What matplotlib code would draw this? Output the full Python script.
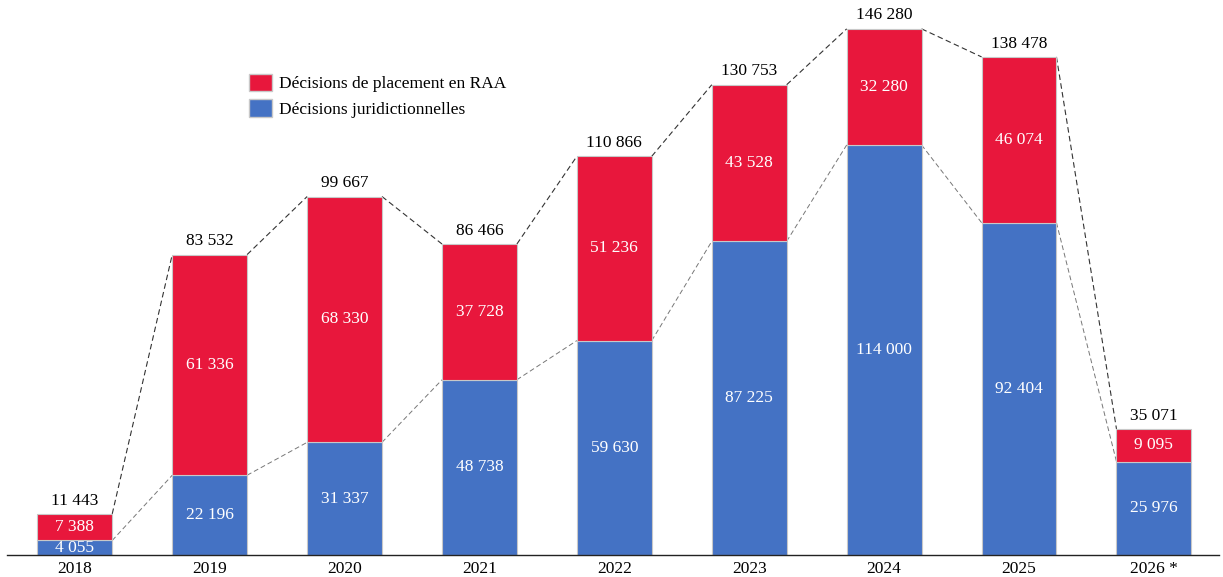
import matplotlib.pyplot as plt
from matplotlib.patches import Patch

# decisions per year
years = ['2018', '2019', '2020', '2021', '2022', '2023', '2024', '2025', '2026 *']
juridictionnelles = [4055, 22196, 31337, 48738, 59630, 87225, 114000, 92404, 25976]
placement_raa = [7388, 61336, 68330, 37728, 51236, 43528, 32280, 46074, 9095]

RED = '#E8173C'
BLUE = '#4472C4'


def fmt(v):
    # French thousands separator
    return '{:,}'.format(v).replace(',', ' ')


plt.rcParams['font.family'] = ['Liberation Serif', 'DejaVu Serif']

fig = plt.figure(figsize=(12.23, 5.77), dpi=100)
ax = fig.add_axes([0.006, 0.038, 0.991, 0.962])

x = list(range(len(years)))
w = 0.555
totals = [a + b for a, b in zip(juridictionnelles, placement_raa)]

ax.bar(x, juridictionnelles, w, color=BLUE, edgecolor='#c8c8c8', linewidth=0.8, zorder=2)
ax.bar(x, placement_raa, w, bottom=juridictionnelles, color=RED, edgecolor='#c8c8c8',
       linewidth=0.8, zorder=2)

# dashed connectors between neighbouring bars
for i in range(len(x) - 1):
    ax.plot([x[i] + w / 2, x[i + 1] - w / 2], [totals[i], totals[i + 1]],
            ls=(0, (5, 3)), color='#333333', lw=0.8, zorder=1)
    ax.plot([x[i] + w / 2, x[i + 1] - w / 2], [juridictionnelles[i], juridictionnelles[i + 1]],
            ls=(0, (5, 3)), color='#777777', lw=0.7, zorder=1)

for i in x:
    ax.text(i, juridictionnelles[i] / 2, fmt(juridictionnelles[i]), ha='center', va='center',
            color='white', fontsize=12.5, zorder=3)
    ax.text(i, juridictionnelles[i] + placement_raa[i] / 2, fmt(placement_raa[i]), ha='center',
            va='center', color='white', fontsize=12.5, zorder=3)
    ax.text(i, totals[i] + 1500, fmt(totals[i]), ha='center', va='bottom',
            color='black', fontsize=12.5, zorder=3)

ax.set_xlim(-0.50, 8.485)
ax.set_ylim(0, 154300)
ax.set_xticks(x)
ax.set_xticklabels(years, fontsize=12.5)
ax.tick_params(axis='x', length=0, pad=4)
ax.set_yticks([])
for s in ['top', 'right', 'left']:
    ax.spines[s].set_visible(False)
ax.spines['bottom'].set_color('#222222')
ax.spines['bottom'].set_linewidth(1.0)

handles = [Patch(facecolor=RED, edgecolor='#c8c8c8'), Patch(facecolor=BLUE, edgecolor='#c8c8c8')]
ax.legend(handles, ['Décisions de placement en RAA', 'Décisions juridictionnelles'],
          loc='upper left', bbox_to_anchor=(0.194, 0.88), frameon=False, fontsize=12.5,
          handlelength=1.3, handleheight=1.2, handletextpad=0.4, labelspacing=0.4,
          borderaxespad=0)

fig.savefig('out.png', dpi=100)
